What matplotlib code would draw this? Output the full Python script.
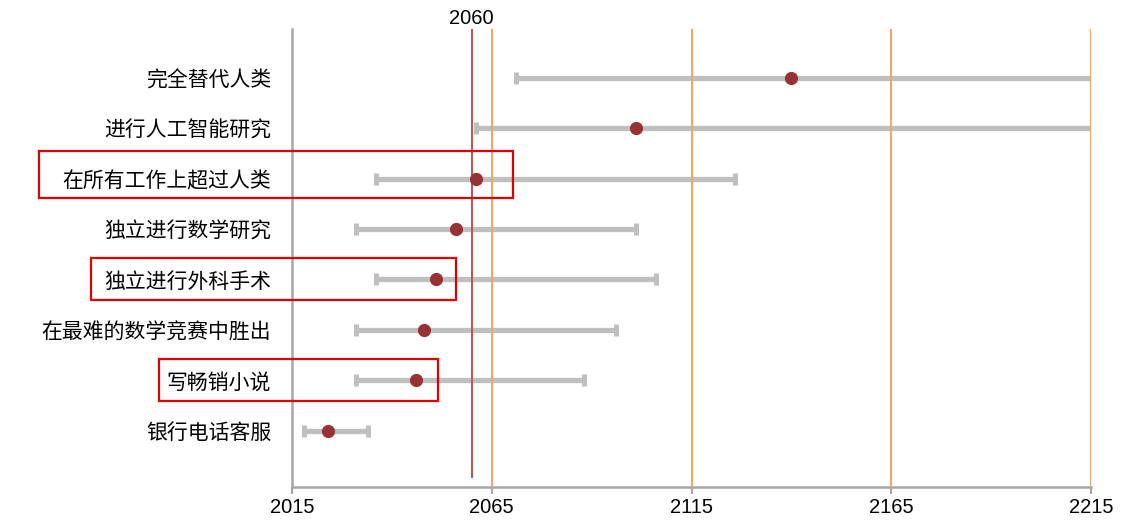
import matplotlib
matplotlib.use("Agg")
import matplotlib.pyplot as plt
from matplotlib.patches import Rectangle

plt.rcParams['font.family'] = ['Noto Sans CJK SC', 'DejaVu Sans']

tasks = ["完全替代人类", "进行人工智能研究", "在所有工作上超过人类", "独立进行数学研究",
         "独立进行外科手术", "在最难的数学竞赛中胜出", "写畅销小说", "银行电话客服"]
lower = [2071, 2061, 2036, 2031, 2036, 2031, 2031, 2018]
median = [2140, 2101, 2061, 2056, 2051, 2048, 2046, 2024]
upper = [2225, 2225, 2126, 2101, 2106, 2096, 2088, 2034]
xticks = [2015, 2065, 2115, 2165, 2215]
marker_year = 2060
highlighted = ["在所有工作上超过人类", "独立进行外科手术", "写畅销小说"]

W, H = 1123, 528
fig = plt.figure(figsize=(W / 100, H / 100), dpi=100)
ax = fig.add_axes([292 / W, 1 - 487 / H, (1091 - 292) / W, (487 - 29) / H])

ypos = list(range(len(tasks)))
err_lo = [m - l for m, l in zip(median, lower)]
err_hi = [u - m for u, m in zip(upper, median)]

ax.errorbar(median, ypos, xerr=[err_lo, err_hi], fmt='none', ecolor='#BFBFBF',
            elinewidth=3.8, capsize=4.0, capthick=3.6, zorder=2)
ax.axvline(marker_year, ymin=10 / 458, ymax=1.0, color='#C0504D', lw=1.4, zorder=3)
for x in xticks[1:]:
    ax.axvline(x, color='#F4A460', lw=1.4, zorder=3)
ax.plot(median, ypos, 'o', color='#993333', ms=9.5, zorder=4, markeredgewidth=0)

ax.text(marker_year, -0.99, str(marker_year), ha='center', va='bottom',
        fontsize=14.5, family=['Liberation Sans', 'DejaVu Sans'], color='black')

ax.set_xlim(2015, 2215)
ax.set_ylim(8.12, -0.97)
ax.set_xticks(xticks)
ax.set_xticklabels([str(x) for x in xticks], fontsize=14.5,
                   family=['Liberation Sans', 'DejaVu Sans'])
ax.set_yticks(ypos)
ax.set_yticklabels(tasks, fontsize=15)
ax.tick_params(axis='y', length=0, pad=15)
ax.tick_params(axis='x', length=5, width=1.5, color='#A6A6A6', pad=3)

for s in ['top', 'right']:
    ax.spines[s].set_visible(False)
for s in ['left', 'bottom']:
    ax.spines[s].set_color('#A6A6A6')
    ax.spines[s].set_linewidth(1.8)

boxes = {"在所有工作上超过人类": (39, 151, 513, 198),
         "独立进行外科手术": (91, 258, 456, 300),
         "写畅销小说": (159, 359, 438, 401)}
for name in highlighted:
    x0, y0, x1, y1 = boxes[name]
    fig.patches.append(Rectangle((x0 / W, 1 - y1 / H), (x1 - x0) / W, (y1 - y0) / H,
                                 transform=fig.transFigure, fill=False,
                                 edgecolor='#E00000', lw=1.6, zorder=10))

fig.savefig("out.png", dpi=100)
